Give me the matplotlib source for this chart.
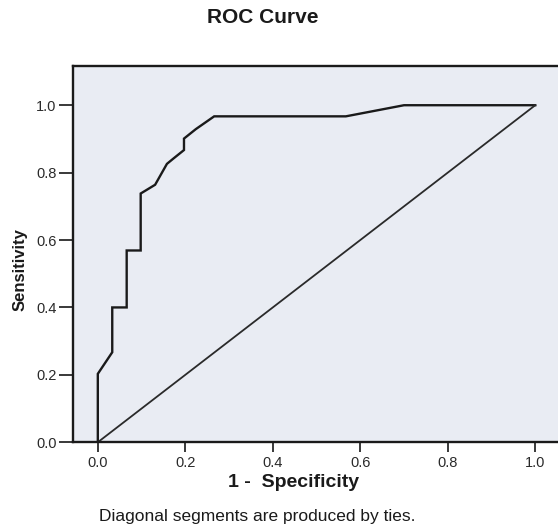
import matplotlib
matplotlib.use('Agg')
import matplotlib.pyplot as plt

# ROC curve points (1 - specificity, sensitivity)
fpr = [0.0, 0.0, 0.033, 0.033, 0.066, 0.066, 0.098, 0.098, 0.131, 0.158,
       0.173, 0.197, 0.197, 0.224, 0.266, 0.567, 0.700, 1.0]
tpr = [0.0, 0.203, 0.267, 0.400, 0.400, 0.569, 0.569, 0.738, 0.764, 0.826,
       0.842, 0.867, 0.901, 0.929, 0.967, 0.967, 1.0, 1.0]
ref_x = [0.0, 1.0]
ref_y = [0.0, 1.0]
ticks = [0.0, 0.2, 0.4, 0.6, 0.8, 1.0]
tick_labels = ['0.0', '0.2', '0.4', '0.6', '0.8', '1.0']

plt.rcParams['font.family'] = ['Liberation Sans', 'DejaVu Sans']

fig = plt.figure(figsize=(5.58, 5.29), dpi=100)
ax = fig.add_axes([0.131, 0.164, 0.869, 0.711])
ax.set_facecolor('#e9ecf3')

ax.plot(fpr, tpr, color='#1a1a1a', lw=1.7, solid_joinstyle='miter')
ax.plot(ref_x, ref_y, color='#2a2a2a', lw=1.3)

ax.set_xlim(-0.0565, 1.052)
ax.set_ylim(0.0, 1.116)
ax.set_xticks(ticks)
ax.set_xticklabels(tick_labels)
ax.set_yticks(ticks)
ax.set_yticklabels(tick_labels)
ax.tick_params(axis='both', direction='out', length=7, width=1.3,
               labelsize=10.5, colors='#2a2a2a', pad=3)
ax.tick_params(axis='y', length=10, pad=2)

for side in ['left', 'bottom', 'top']:
    ax.spines[side].set_linewidth(1.7)
    ax.spines[side].set_color('#1a1a1a')
ax.spines['right'].set_visible(False)

ax.set_xlabel('1 -  Specificity', fontsize=14, fontweight='bold', color='#1a1a1a')
ax.xaxis.set_label_coords(0.454, -0.085)
ax.set_ylabel('Sensitivity', fontsize=12, fontweight='bold', color='#1a1a1a',
              family=['Liberation Sans Narrow', 'Liberation Sans', 'DejaVu Sans'])
ax.yaxis.set_label_coords(-0.095, 0.46)

fig.text(0.47, 0.966, 'ROC Curve', ha='center', va='center',
         fontsize=15, fontweight='bold', color='#1a1a1a')
fig.text(0.461, 0.023, 'Diagonal segments are produced by ties.', ha='center',
         va='center', fontsize=12.5, color='#1a1a1a')

fig.savefig('out.png', dpi=100)
